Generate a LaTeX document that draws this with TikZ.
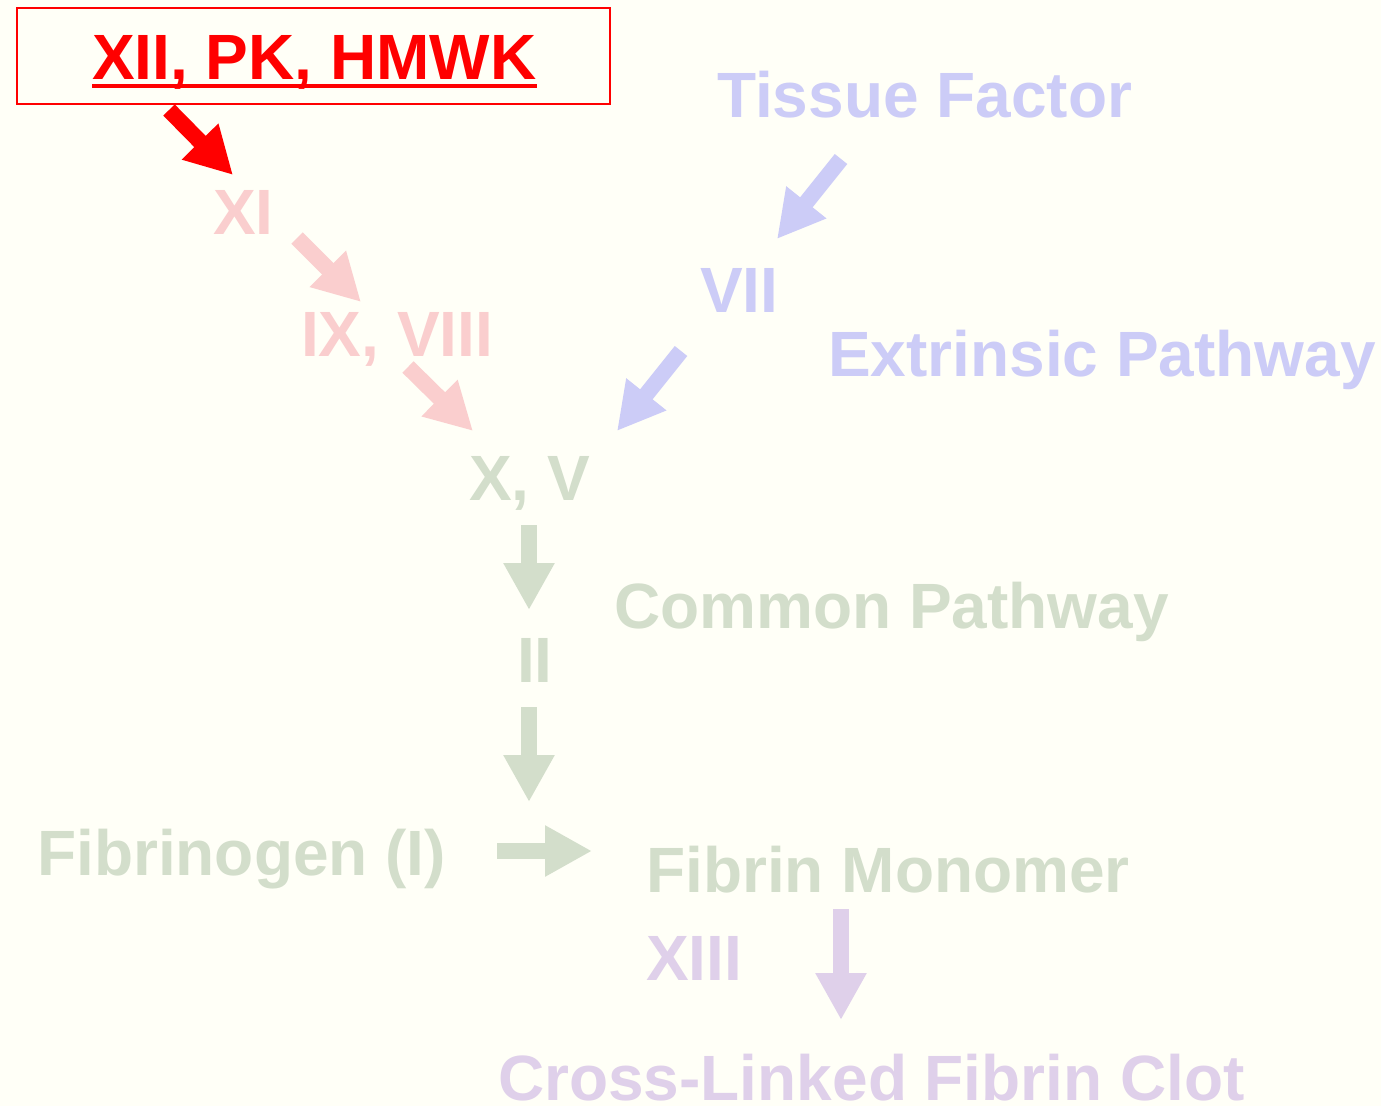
\documentclass[tikz,border=0pt]{standalone}
\usepackage{fontspec}
\setmainfont{Liberation Sans}
\usetikzlibrary{arrows.meta}
\definecolor{bgc}{RGB}{255,255,247}
\definecolor{redc}{RGB}{255,0,0}
\definecolor{pinkc}{RGB}{250,206,206}
\definecolor{bluec}{RGB}{204,204,247}
\definecolor{greenc}{RGB}{211,222,203}
\definecolor{purplec}{RGB}{223,208,234}
\tikzset{
  lbl/.style={inner sep=0pt, anchor=base west, font=\fontsize{64}{70}\selectfont\bfseries},
  barrow/.style={line width=16pt, -{Triangle[length=47pt,width=48pt]}},
}
\begin{document}
\begin{tikzpicture}[x=1pt,y=-1pt]
\fill[bgc] (0,0) rectangle (1381,1106);
\useasboundingbox (0,0) rectangle (1381,1106);
% box
\node[draw=redc, line width=2pt, minimum width=593pt, minimum height=96pt, inner sep=0pt] (box) at (313.5,56) {};
\node[lbl, text=redc] (xii) at (92,79) {XII, PK, HMWK};
\draw[redc, line width=3.5pt] ([yshift=-7pt]xii.base west) -- ([yshift=-7pt]xii.base east);
% intrinsic
\node[lbl, text=pinkc] (xi) at (213,234) {XI};
\node[lbl, text=pinkc] (ix) at (301,356) {IX, VIII};
% extrinsic
\node[lbl, text=bluec] (tf) at (717,117) {Tissue Factor};
\node[lbl, text=bluec] (vii) at (700,312) {VII};
\node[lbl, text=bluec] (ext) at (828,376) {Extrinsic Pathway};
% common
\node[lbl, text=greenc] (xv) at (469,500) {X, V};
\node[lbl, text=greenc] (ii) at (517,682) {II};
\node[lbl, text=greenc] (cp) at (614,628) {Common Pathway};
\node[lbl, text=greenc] (fib) at (37,875) {Fibrinogen (I)};
\node[lbl, text=greenc] (fm) at (646,892) {Fibrin Monomer};
\node[lbl, text=purplec] (xiii) at (646,980) {XIII};
\node[lbl, text=purplec] (clot) at (498,1100) {Cross-Linked Fibrin Clot};
% arrow ends
\coordinate (a1s) at (169,110); \coordinate (a1e) at (233,175);
\coordinate (a2s) at (297,238); \coordinate (a2e) at (361,302);
\coordinate (a3s) at (408,367); \coordinate (a3e) at (473,431);
\coordinate (b1s) at (841,159); \coordinate (b1e) at (777,239);
\coordinate (b2s) at (681,351); \coordinate (b2e) at (617,431);
\coordinate (g1s) at (529,525); \coordinate (g1e) at (529,610);
\coordinate (g2s) at (529,707); \coordinate (g2e) at (529,802);
\coordinate (g3s) at (497,851); \coordinate (g3e) at (592,851);
\coordinate (p1s) at (841,909); \coordinate (p1e) at (841,1020);
\draw[barrow, redc] (a1s) -- (a1e);
\draw[barrow, pinkc] (a2s) -- (a2e);
\draw[barrow, pinkc] (a3s) -- (a3e);
\draw[barrow, bluec] (b1s) -- (b1e);
\draw[barrow, bluec] (b2s) -- (b2e);
\draw[barrow, greenc] (g1s) -- (g1e);
\draw[barrow, greenc] (g2s) -- (g2e);
\draw[barrow, greenc] (g3s) -- (g3e);
\draw[barrow, purplec] (p1s) -- (p1e);
\end{tikzpicture}
\end{document}
